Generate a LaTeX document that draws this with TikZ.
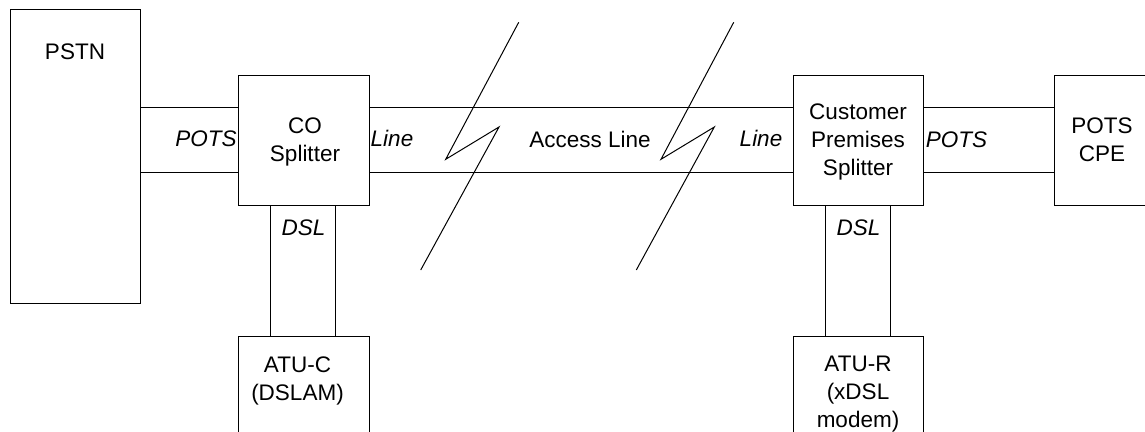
\documentclass[tikz,border=0pt]{standalone}
\usepackage{fontspec}
\setmainfont{Liberation Sans}
\newcommand{\mlines}[1]{\begin{tabular}[t]{@{}c@{}}#1\end{tabular}}
\begin{document}
\begin{tikzpicture}[x=1pt,y=-1pt,
  box/.style={draw, line width=1pt, rectangle, inner sep=0pt},
  conn/.style={line width=1pt},
  txt/.style={font=\fontsize{22.5}{28}\selectfont, inner sep=0pt, anchor=base},
  itxt/.style={font=\fontsize{22.5}{28}\selectfont\itshape, inner sep=0pt, anchor=base}]
\useasboundingbox (0,0) rectangle (1145,431);
\clip (0,0) rectangle (1145,431);
% boxes
\node[box, minimum width=130pt, minimum height=294pt] (pstn) at (75,156) {};
\node[box, minimum width=131pt, minimum height=130pt] (co) at (303.5,140) {};
\node[box, minimum width=130pt, minimum height=130pt] (cps) at (858,140) {};
\node[box, minimum width=96pt, minimum height=130pt] (cpe) at (1102,140) {};
\node[box, minimum width=131pt, minimum height=110pt] (atuc) at (303.5,391) {};
\node[box, minimum width=130pt, minimum height=110pt] (atur) at (858,391) {};
% box texts
\node[txt] (tpstn) at (75,59) {PSTN};
\node[txt] (tco) at (305,133) {\mlines{CO\\Splitter}};
\node[txt] (tcps) at (858,119) {\mlines{Customer\\Premises\\Splitter}};
\node[txt] (tcpe) at (1102,133) {\mlines{POTS\\CPE}};
\node[txt] (tatuc) at (297.5,372) {\mlines{ATU-C\\(DSLAM)}};
\node[txt] (tatur) at (858,371.5) {\mlines{ATU-R\\(xDSL\\modem)}};
% connectors
\coordinate (t) at (0,107);
\coordinate (b) at (0,172);
\draw[conn] (pstn.east |- t) -- (co.west |- t);
\draw[conn] (pstn.east |- b) -- (co.west |- b);
\draw[conn] (co.east |- t) -- (cps.west |- t);
\draw[conn] (co.east |- b) -- (cps.west |- b);
\draw[conn] (cps.east |- t) -- (cpe.west |- t);
\draw[conn] (cps.east |- b) -- (cpe.west |- b);
\coordinate (cl) at (270,0);
\coordinate (cr) at (335,0);
\coordinate (rl) at (825,0);
\coordinate (rr) at (890,0);
\draw[conn] (co.south -| cl) -- (atuc.north -| cl);
\draw[conn] (co.south -| cr) -- (atuc.north -| cr);
\draw[conn] (cps.south -| rl) -- (atur.north -| rl);
\draw[conn] (cps.south -| rr) -- (atur.north -| rr);
% break symbols
\draw[conn] (518.7,22.3) -- (445.7,159.3) -- (499,127) -- (420.7,270);
\draw[conn] (733.7,22.3) -- (661,159.3) -- (714.3,127) -- (636.3,270);
% labels
\node[itxt] (lpots1) at (206,146.5) {POTS};
\node[itxt] (lline1) at (392,146.5) {Line};
\node[txt] (lacc) at (590,147) {Access Line};
\node[itxt] (lline2) at (761,146.5) {Line};
\node[itxt] (lpots2) at (956.5,147) {POTS};
\node[itxt] (ldsl1) at (303.5,235) {DSL};
\node[itxt] (ldsl2) at (858.5,235) {DSL};
\end{tikzpicture}
\end{document}
